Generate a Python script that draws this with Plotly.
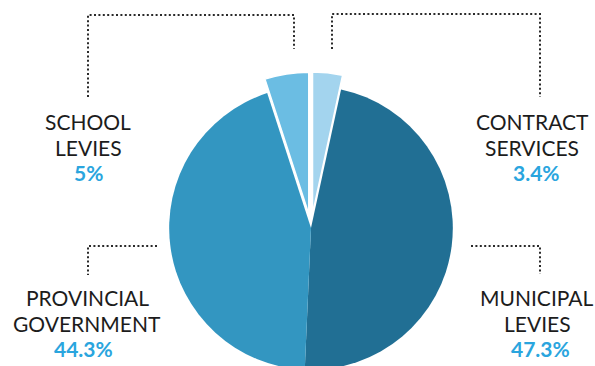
import plotly.graph_objects as go

# ---- data ----
labels = ["CONTRACT SERVICES", "MUNICIPAL LEVIES", "PROVINCIAL GOVERNMENT", "SCHOOL LEVIES"]
label_lines = [["CONTRACT", "SERVICES"], ["MUNICIPAL", "LEVIES"],
               ["PROVINCIAL", "GOVERNMENT"], ["SCHOOL", "LEVIES"]]
values = [3.4, 47.3, 44.3, 5.0]
colors = ["#a3d4ee", "#216f94", "#3396c1", "#6bbde3"]
pulls = [0.1, 0, 0, 0.1]

W, H = 595, 390


def px(x):
    return x / W


def py(y):
    return 1 - y / H


fig = go.Figure(go.Pie(
    labels=labels,
    values=values,
    sort=False,
    direction="clockwise",
    rotation=0,
    pull=pulls,
    marker=dict(colors=colors, line=dict(color="white", width=[1.5, 0, 0, 1.5])),
    textinfo="none",
    hoverinfo="label+percent",
    showlegend=False,
    domain=dict(x=[px(111), px(511)], y=[py(384), py(72)]),
))

# label positions (centre x, first-line centre y) per slice
label_pos = [(532, 121), (537, 297), (87, 297), (88, 121)]
pct_x = [536, 540, 83, 88]
line_gap = 26
for i, (lines, v) in enumerate(zip(label_lines, values)):
    cx, cy = label_pos[i]
    for j, t in enumerate(lines):
        fig.add_annotation(x=px(cx), y=py(cy + j * line_gap), xref="paper", yref="paper",
                           text=t, showarrow=False, xanchor="center", yanchor="middle",
                           font=dict(family="Lato", size=21, color="#1c1c1c"))
    fig.add_annotation(x=px(pct_x[i]), y=py(cy + 2 * line_gap - 1), xref="paper", yref="paper",
                       text=f"<b>{v:g}%</b>", showarrow=False, xanchor="center", yanchor="middle",
                       font=dict(family="Lato", size=21, color="#2aa5de"))

# dotted connector lines (pixel paths)
connectors = [
    [(88, 97), (88, 15), (294, 15), (294, 49)],
    [(332, 49), (332, 14), (540, 14), (540, 97)],
    [(157, 246), (88, 246), (88, 275)],
    [(471, 246), (540, 246), (540, 274)],
]
for pts in connectors:
    path = "M " + " L ".join(f"{px(x):.5f},{py(y):.5f}" for x, y in pts)
    fig.add_shape(type="path", path=path, xref="paper", yref="paper",
                  line=dict(color="#2a2a2a", width=2, dash="2px,2.4px"))

fig.update_layout(
    width=W, height=H,
    margin=dict(l=0, r=0, t=0, b=0),
    paper_bgcolor="white", plot_bgcolor="white",
)

fig.write_html("out.html", config={"displayModeBar": False},
               post_script="document.documentElement.style.overflow='hidden';document.body.style.overflow='hidden';document.body.style.margin='0';")
